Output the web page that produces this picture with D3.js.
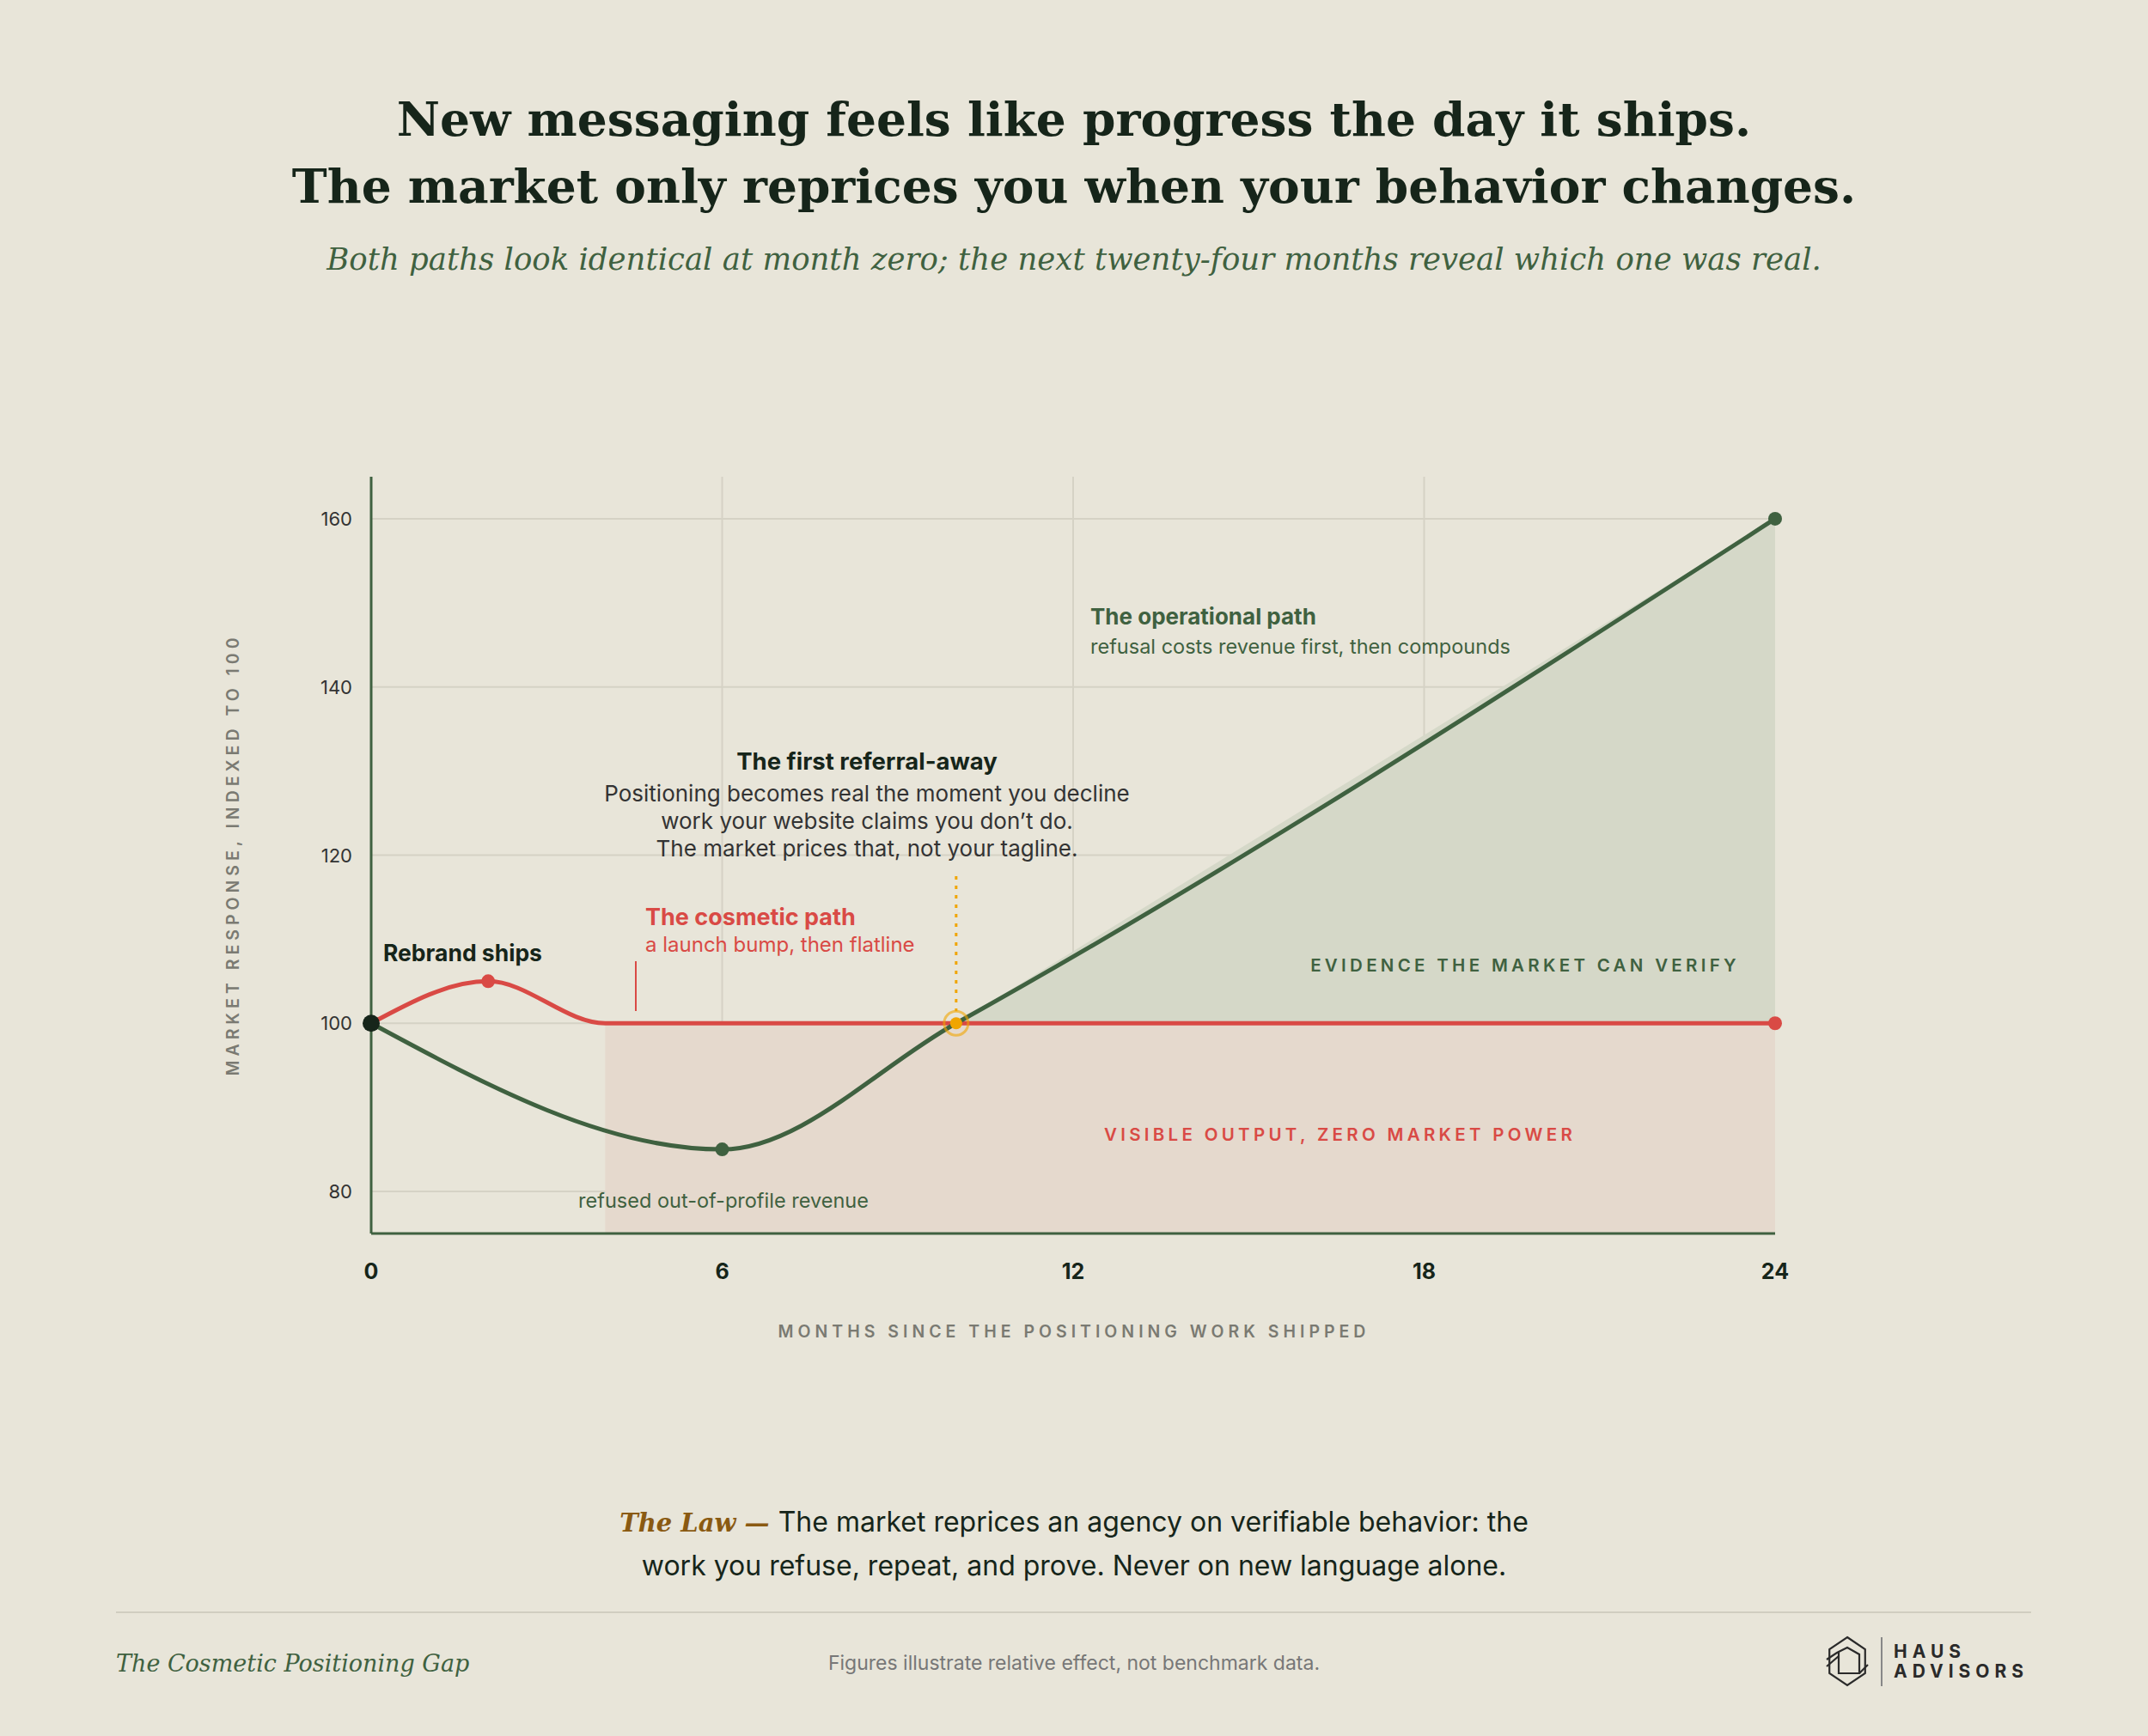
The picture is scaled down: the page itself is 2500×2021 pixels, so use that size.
<!DOCTYPE html>
<html>
<head>
  <script src="https://cdn.jsdelivr.net/npm/d3@7"></script>
  <style>
    body { margin: 0; background: #e8e5d9; }
    svg { display: block; }
  </style>
</head>
<body>
<script>
  // data
  const months = [0, 6, 12, 18, 24];
  const yTicks = [80, 100, 120, 140, 160];
  const cosmetic = [[0, 100], [2, 105], [4, 100], [24, 100]];
  const operational = [[0, 100], [6, 85], [10, 100], [24, 160]];
  const crossover = [10, 100];

  const W = 2500, H = 2021;
  const green = "#3f6140", red = "#d94a45", dark = "#16251a", orange = "#f0a500";
  const sans = "Inter, 'Noto Sans', sans-serif";
  const serif = "'DejaVu Serif', 'Liberation Serif', serif";

  const svg = d3.select("body").append("svg").attr("width", W).attr("height", H);
  svg.append("rect").attr("width", W).attr("height", H).attr("fill", "#e8e5d9");

  const x = d3.scaleLinear().domain([0, 24]).range([432, 2066]);
  const y = d3.scaleLinear().domain([75, 165]).range([1436, 555]);

  // titles
  const title = svg.append("text").attr("text-anchor", "middle").attr("fill", dark)
    .attr("font-family", serif).attr("font-weight", "bold").attr("font-size", 55);
  title.append("tspan").attr("x", 1250).attr("y", 158).text("New messaging feels like progress the day it ships.");
  title.append("tspan").attr("x", 1250).attr("y", 236).text("The market only reprices you when your behavior changes.");
  svg.append("text").attr("x", 1250).attr("y", 314).attr("text-anchor", "middle")
    .attr("font-family", serif).attr("font-style", "italic").attr("font-size", 35.5).attr("fill", green)
    .text("Both paths look identical at month zero; the next twenty-four months reveal which one was real.");

  // grid
  svg.selectAll("line.hg").data(yTicks).enter().append("line").attr("class", "hg")
    .attr("x1", x(0)).attr("x2", x(24)).attr("y1", d => y(d)).attr("y2", d => y(d))
    .attr("stroke", "#d5d2c5").attr("stroke-width", 2);
  svg.selectAll("line.vg").data(months.slice(1, 4)).enter().append("line").attr("class", "vg")
    .attr("x1", d => x(d)).attr("x2", d => x(d)).attr("y1", y(165)).attr("y2", y(75))
    .attr("stroke", "#d5d2c5").attr("stroke-width", 2);

  // shaded areas
  svg.append("rect").attr("x", x(4)).attr("y", y(100)).attr("width", x(24) - x(4)).attr("height", y(75) - y(100))
    .attr("fill", "#e5d9cd");
  const curve = d3.curveMonotoneX;
  const opUpper = operational.filter(d => d[0] >= 10);
  svg.append("path").datum(opUpper)
    .attr("d", d3.area().x(d => x(d[0])).y0(y(100)).y1(d => y(d[1])).curve(curve))
    .attr("fill", "#d5d8c8");

  // axes
  svg.append("line").attr("x1", x(0)).attr("x2", x(0)).attr("y1", y(165)).attr("y2", y(75)).attr("stroke", green).attr("stroke-width", 3);
  svg.append("line").attr("x1", x(0)).attr("x2", x(24)).attr("y1", y(75)).attr("y2", y(75)).attr("stroke", green).attr("stroke-width", 3);

  svg.selectAll("text.yt").data(yTicks).enter().append("text").attr("class", "yt")
    .attr("x", 410).attr("y", d => y(d) + 8).attr("text-anchor", "end")
    .attr("font-family", sans).attr("font-size", 22).attr("fill", "#333").text(d => d);
  svg.selectAll("text.xt").data(months).enter().append("text").attr("class", "xt")
    .attr("x", d => x(d)).attr("y", 1489).attr("text-anchor", "middle")
    .attr("font-family", sans).attr("font-weight", "bold").attr("font-size", 25).attr("fill", dark).text(d => d);

  svg.append("text").attr("x", 1250).attr("y", 1557).attr("text-anchor", "middle")
    .attr("font-family", sans).attr("font-weight", 600).attr("font-size", 19.5).attr("letter-spacing", 5)
    .attr("fill", "#7a7a72").text("MONTHS SINCE THE POSITIONING WORK SHIPPED");
  svg.append("text").attr("transform", "translate(278,995) rotate(-90)").attr("text-anchor", "middle")
    .attr("font-family", sans).attr("font-weight", 600).attr("font-size", 19.5).attr("letter-spacing", 5)
    .attr("fill", "#7a7a72").text("MARKET RESPONSE, INDEXED TO 100");

  // lines
  const line = d3.line().x(d => x(d[0])).y(d => y(d[1])).curve(curve);
  svg.append("path").datum(cosmetic).attr("d", line).attr("fill", "none").attr("stroke", red).attr("stroke-width", 5);
  svg.append("path").datum(operational).attr("d", line).attr("fill", "none").attr("stroke", green).attr("stroke-width", 5);

  // dots
  svg.append("circle").attr("cx", x(2)).attr("cy", y(105)).attr("r", 8).attr("fill", red);
  svg.append("circle").attr("cx", x(24)).attr("cy", y(100)).attr("r", 8).attr("fill", red);
  svg.append("circle").attr("cx", x(6)).attr("cy", y(85)).attr("r", 8).attr("fill", green);
  svg.append("circle").attr("cx", x(24)).attr("cy", y(160)).attr("r", 8).attr("fill", green);
  svg.append("circle").attr("cx", x(0)).attr("cy", y(100)).attr("r", 10).attr("fill", dark);

  // crossover marker
  svg.append("line").attr("x1", x(crossover[0])).attr("x2", x(crossover[0])).attr("y1", 1020).attr("y2", y(100) - 14)
    .attr("stroke", orange).attr("stroke-width", 3).attr("stroke-dasharray", "4,7");
  svg.append("circle").attr("cx", x(crossover[0])).attr("cy", y(crossover[1])).attr("r", 14)
    .attr("fill", "none").attr("stroke", orange).attr("stroke-opacity", 0.6).attr("stroke-width", 3);
  svg.append("circle").attr("cx", x(crossover[0])).attr("cy", y(crossover[1])).attr("r", 7).attr("fill", orange);

  // annotations
  function txt(xp, yp, s, o) {
    return svg.append("text").attr("x", xp).attr("y", yp).attr("font-family", sans)
      .attr("font-size", o.size || 24).attr("font-weight", o.weight || 400).attr("fill", o.fill || dark)
      .attr("text-anchor", o.anchor || "start").attr("letter-spacing", o.ls || 0).text(s);
  }
  txt(446, 1119, "Rebrand ships", { size: 26.5, weight: 700 });
  txt(751, 1077, "The cosmetic path", { size: 27, weight: 700, fill: red });
  txt(751, 1108, "a launch bump, then flatline", { size: 24, fill: red });
  svg.append("line").attr("x1", 740).attr("x2", 740).attr("y1", 1119).attr("y2", 1177).attr("stroke", red).attr("stroke-width", 2);

  txt(1009, 896, "The first referral-away", { size: 27.5, weight: 700, anchor: "middle" });
  txt(1009, 933, "Positioning becomes real the moment you decline", { size: 26, fill: "#333", anchor: "middle" });
  txt(1009, 965, "work your website claims you don\u2019t do.", { size: 26, fill: "#333", anchor: "middle" });
  txt(1009, 997, "The market prices that, not your tagline.", { size: 26, fill: "#333", anchor: "middle" });

  txt(1269, 727, "The operational path", { size: 26, weight: 700, fill: green });
  txt(1269, 761, "refusal costs revenue first, then compounds", { size: 23.5, fill: green });
  txt(2025, 1131, "EVIDENCE THE MARKET CAN VERIFY", { size: 20.5, weight: 600, fill: green, anchor: "end", ls: 4.3 });
  txt(1285, 1328, "VISIBLE OUTPUT, ZERO MARKET POWER", { size: 20.5, weight: 600, fill: red, ls: 4.3 });
  txt(842, 1406, "refused out-of-profile revenue", { size: 23.5, fill: green, anchor: "middle" });

  // the law
  const law = svg.append("text").attr("x", 1250).attr("y", 1783).attr("text-anchor", "middle")
    .attr("font-family", sans).attr("font-size", 32).attr("fill", dark);
  law.append("tspan").attr("font-family", serif).attr("font-style", "italic").attr("font-weight", "bold")
    .attr("font-size", 29).attr("fill", "#8a5a12").text("The Law \u2014 ");
  law.append("tspan").text(" The market reprices an agency on verifiable behavior: the");
  txt(1250, 1834, "work you refuse, repeat, and prove. Never on new language alone.", { size: 32, anchor: "middle" });

  // footer
  svg.append("line").attr("x1", 135).attr("x2", 2364).attr("y1", 1877).attr("y2", 1877).attr("stroke", "#d0cdc0").attr("stroke-width", 2);
  svg.append("text").attr("x", 135).attr("y", 1946).attr("font-family", serif).attr("font-style", "italic")
    .attr("font-size", 27).attr("fill", green).text("The Cosmetic Positioning Gap");
  txt(1250, 1944, "Figures illustrate relative effect, not benchmark data.", { size: 23, fill: "#777", anchor: "middle" });

  // logo
  const g = svg.append("g").attr("transform", "translate(2150,1934)").attr("fill", "none").attr("stroke", "#2a2a2a").attr("stroke-width", 2.2);
  const hex = d3.range(6).map(i => { const a = Math.PI / 3 * i - Math.PI / 2; return [24 * Math.cos(a), 28 * Math.sin(a)]; });
  g.append("path").attr("d", d3.line()(hex) + "Z");
  g.append("path").attr("d", "M-24,-2 L-12,-10 L0,-16 L14,-8 L14,14 L-10,14 L-10,-12");
  g.append("path").attr("d", "M-24,6 L-10,-6 M14,14 L24,4");
  svg.append("line").attr("x1", 2190).attr("x2", 2190).attr("y1", 1906).attr("y2", 1963).attr("stroke", "#888").attr("stroke-width", 2);
  txt(2204, 1930, "HAUS", { size: 21, weight: 700, fill: "#2a2a2a", ls: 6 });
  txt(2204, 1953, "ADVISORS", { size: 21, weight: 700, fill: "#2a2a2a", ls: 6 });
</script>
</body>
</html>
